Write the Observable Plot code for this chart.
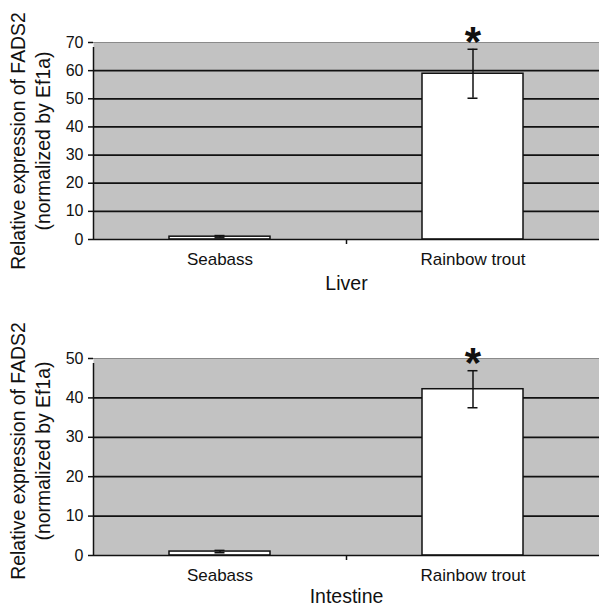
<!DOCTYPE html>
<html>
<head>
<meta charset="utf-8">
<script src="https://cdn.jsdelivr.net/npm/d3@7"></script>
<script src="https://cdn.jsdelivr.net/npm/@observablehq/plot@0.6"></script>
<style>
  html, body { margin: 0; padding: 0; background: #fff; }
  #chart svg { display: block; }
</style>
</head>
<body>
<div id="chart"></div>
<script>
const categories = ["Seabass", "Rainbow trout"];
const significance = ["", "*"];

const liverMean = [1.0, 58.9];
const liverErr = [0.4, 8.7];
const liverTicks = [0, 10, 20, 30, 40, 50, 60, 70];

const intestineMean = [1.0, 42.2];
const intestineErr = [0.3, 4.7];
const intestineTicks = [0, 10, 20, 30, 40, 50];

const yTitle1 = "Relative expression of FADS2";
const yTitle2 = "(normalized by Ef1a)";

const W = 599, ML = 93, MR = 0;

function panel({means, errs, ticks, title, height, marginTop, marginBottom, titleDy, yTitleDy}) {
  const data = categories.map((c, i) => ({cat: c, v: means[i], e: errs[i], sig: significance[i]}));
  const maxY = ticks[ticks.length - 1];
  const halfStep = (W - ML - MR) / categories.length / 2;
  const font = "Liberation Sans, Arial, Helvetica, sans-serif";
  return Plot.plot({
    width: W,
    height,
    marginLeft: ML,
    marginRight: MR,
    marginTop,
    marginBottom,
    style: {fontFamily: font, color: "#111", background: "#fff", overflow: "visible"},
    x: {domain: categories, paddingInner: 0.6, paddingOuter: 0.3, axis: null},
    y: {domain: [0, maxY], axis: null},
    marks: [
      Plot.frame({fill: "#c2c2c2", stroke: null}),
      Plot.ruleY(ticks.filter(t => t > 0 && t < maxY), {stroke: "#111", strokeWidth: 1.7}),
      Plot.ruleY([maxY], {stroke: "#8a8a8a", strokeWidth: 1}),
      Plot.barY(data, {x: "cat", y: "v", fill: "#fff", stroke: "#111", strokeWidth: 1.5}),
      Plot.ruleX(data, {x: "cat", y1: d => d.v - d.e, y2: d => d.v + d.e, stroke: "#111", strokeWidth: 1.5}),
      Plot.tickY(data, {x: "cat", y: d => d.v + d.e, insetLeft: 45.5, insetRight: 45.5, stroke: "#111", strokeWidth: 1.5}),
      Plot.tickY(data, {x: "cat", y: d => d.v - d.e, insetLeft: 45.5, insetRight: 45.5, stroke: "#111", strokeWidth: 1.5}),
      Plot.text(data, {x: "cat", y: d => d.v + d.e, text: "sig", fontSize: 42, fontWeight: "bold", lineAnchor: "middle", dy: -7, fill: "#111"}),
      Plot.ruleY([0], {stroke: "#111", strokeWidth: 1.7}),
      // left axis line + category boundary ticks
      Plot.ruleX([categories[0]], {x: d => d, y1: 0, y2: maxY, insetBottom: -5, dx: -halfStep, stroke: "#111", strokeWidth: 1.5}),
      Plot.ruleX(categories.slice(1), {x: d => d, y1: 0, y2: 0, insetBottom: -5, dx: -halfStep, stroke: "#111", strokeWidth: 1.5}),
      Plot.axisY({ticks, tickSize: 5, tickPadding: 5, fontSize: 16, label: null, stroke: "#111", strokeWidth: 1.5}),
      Plot.axisX({tickSize: 0, tickPadding: 13, fontSize: 17, label: null}),
      Plot.text([title], {frameAnchor: "bottom", lineAnchor: "middle", dy: titleDy, fontSize: 19.5, fill: "#111"}),
      Plot.text([yTitle1], {frameAnchor: "left", textAnchor: "middle", lineAnchor: "middle", rotate: -90, dx: -75, dy: yTitleDy, fontSize: 19.4, fill: "#111"}),
      Plot.text([yTitle2], {frameAnchor: "left", textAnchor: "middle", lineAnchor: "middle", rotate: -90, dx: -50, dy: yTitleDy, fontSize: 19.4, fill: "#111"})
    ]
  });
}

const chart = document.getElementById("chart");
chart.append(panel({means: liverMean, errs: liverErr, ticks: liverTicks, title: "Liver",
  height: 303, marginTop: 42, marginBottom: 64, titleDy: 44, yTitleDy: 0}));
chart.append(panel({means: intestineMean, errs: intestineErr, ticks: intestineTicks, title: "Intestine",
  height: 303, marginTop: 55, marginBottom: 51, titleDy: 41, yTitleDy: -6}));
</script>
</body>
</html>
